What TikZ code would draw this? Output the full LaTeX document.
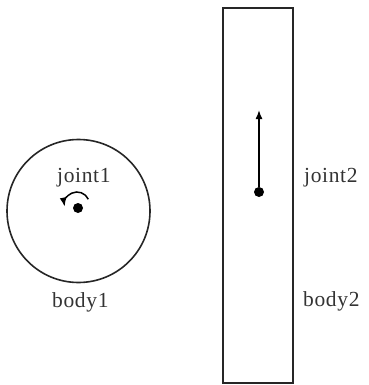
\documentclass[tikz,border=0pt]{standalone}
\usepackage{fontspec}
\setmainfont{Liberation Serif}
\usetikzlibrary{arrows.meta,calc}
\tikzset{
  outline/.style={draw=black!85, line width=1.6pt},
  lbl/.style={anchor=base west, inner sep=0pt, font=\fontsize{21.5}{25}\selectfont\addfontfeatures{LetterSpace=3}, text=black!80},
  jdot/.style={circle, fill=black, inner sep=0pt, minimum size=10pt},
  motion/.style={line width=1.5pt, -{Latex[length=9pt,width=7pt]}}
}
\begin{document}
\begin{tikzpicture}[x=1pt,y=-1pt]
\useasboundingbox (0,0) rectangle (368,385);
% body1
\node[outline, circle, minimum size=143pt, inner sep=0pt] (body1shape) at (78.5,211) {};
\node[jdot] (j1) at (78,208) {};
\coordinate (arcstart) at ($(77,204.5)+(-25:12.5)$);
\draw[motion] (arcstart) arc[start angle=-25, end angle=-190, radius=12.5];
\node[lbl] (joint1) at (57,182) {joint1};
\node[lbl] (body1) at (52,307) {body1};
% body2
\node[outline, rectangle, minimum width=70pt, minimum height=375pt, inner sep=0pt] (body2shape) at (258,195.5) {};
\node[jdot] (j2) at (259,192) {};
\coordinate (j2tip) at (259,110);
\draw[motion] (j2) -- (j2tip);
\node[lbl] (joint2) at (304,182) {joint2};
\node[lbl] (body2) at (303,306) {body2};
\end{tikzpicture}
\end{document}
